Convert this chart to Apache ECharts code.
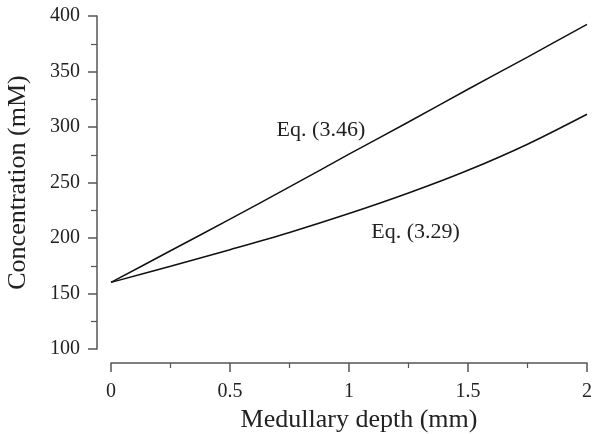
<!DOCTYPE html>
<html>
<head>
<meta charset="utf-8">
<title>Concentration vs medullary depth</title>
<script src="https://cdn.jsdelivr.net/npm/echarts@6/dist/echarts.min.js"></script>
<style>
    html, body { margin: 0; padding: 0; background: #fff; }
    #main { width: 592px; height: 434px; }
</style>
</head>
<body>
<div id="main"></div>
<script>
// medullary depth (mm)
var depth = [0, 0.25, 0.5, 0.75, 1, 1.25, 1.5, 1.75, 2];
// Eq. (3.46), almost straight
var eq346 = [160, 188.5, 217, 246, 275.5, 304.5, 334, 363, 392.5];
// Eq. (3.29), bends upward
var eq329 = [160, 174.5, 189.5, 205, 222, 240.5, 261, 284.5, 311.5];

var xTicks = ['0', '0.5', '1', '1.5', '2'];
var yTicks = ['100', '150', '200', '250', '300', '350', '400'];

// where the two curve names sit, in data units
var labelSpots = [
    {name: 'Eq. (3.46)', coord: [0.882, 297]},
    {name: 'Eq. (3.29)', coord: [1.28, 205]}
];

function pairs(xs, ys) {
    var out = [];
    for (var i = 0; i < xs.length; i++) {
        out.push([xs[i], ys[i]]);
    }
    return out;
}

var serif = '"Liberation Serif", "Times New Roman", serif';
var axisColor = '#555';
var textColor = '#222';

var myChart = echarts.init(document.getElementById('main'));

var option = {
    animation: false,
    grid: {
        left: 111,
        right: 5,
        top: 16,
        bottom: 85,
        containLabel: false,
        outerBoundsMode: 'none'
    },
    xAxis: {
        type: 'value',
        min: 0,
        max: 2,
        interval: 0.5,
        offset: 14,
        name: 'Medullary depth (mm)',
        nameLocation: 'middle',
        nameGap: 44,
        nameTextStyle: {fontFamily: serif, fontSize: 26, color: textColor, padding: [0, 0, 0, 20]},
        axisLine: {show: true, onZero: false, lineStyle: {color: axisColor, width: 1.5}},
        axisTick: {show: true, inside: false, length: 9, lineStyle: {color: axisColor, width: 1.5}},
        minorTick: {show: true, splitNumber: 2, length: 5, lineStyle: {color: axisColor, width: 1.2}},
        axisLabel: {
            margin: 19,
            fontFamily: serif,
            fontSize: 20,
            color: textColor,
            formatter: function (v) {
                return xTicks[Math.round(v / 0.5)];
            }
        },
        splitLine: {show: false}
    },
    yAxis: {
        type: 'value',
        min: 100,
        max: 400,
        interval: 50,
        offset: 14,
        name: 'Concentration (mM)',
        nameLocation: 'middle',
        nameGap: 66,
        nameTextStyle: {fontFamily: serif, fontSize: 26, color: textColor},
        axisLine: {show: true, onZero: false, lineStyle: {color: axisColor, width: 1.5}},
        axisTick: {show: true, inside: false, length: 9, lineStyle: {color: axisColor, width: 1.5}},
        minorTick: {show: true, splitNumber: 2, length: 6, lineStyle: {color: axisColor, width: 1.2}},
        axisLabel: {
            margin: 17,
            fontFamily: serif,
            fontSize: 20,
            color: textColor,
            formatter: function (v) {
                return yTicks[Math.round((v - 100) / 50)];
            }
        },
        splitLine: {show: false}
    },
    series: [
        {
            name: 'Eq. (3.46)',
            type: 'line',
            data: pairs(depth, eq346),
            smooth: 0.3,
            showSymbol: false,
            lineStyle: {color: '#111', width: 1.5},
            markPoint: {
                symbol: 'circle',
                symbolSize: 0,
                label: {show: true, position: 'inside', formatter: '{b}', fontFamily: serif, fontSize: 22, color: textColor},
                data: [labelSpots[0]]
            }
        },
        {
            name: 'Eq. (3.29)',
            type: 'line',
            data: pairs(depth, eq329),
            smooth: 0.3,
            showSymbol: false,
            lineStyle: {color: '#111', width: 1.5},
            markPoint: {
                symbol: 'circle',
                symbolSize: 0,
                label: {show: true, position: 'inside', formatter: '{b}', fontFamily: serif, fontSize: 22, color: textColor},
                data: [labelSpots[1]]
            }
        }
    ]
};

myChart.setOption(option, true);
</script>
</body>
</html>
